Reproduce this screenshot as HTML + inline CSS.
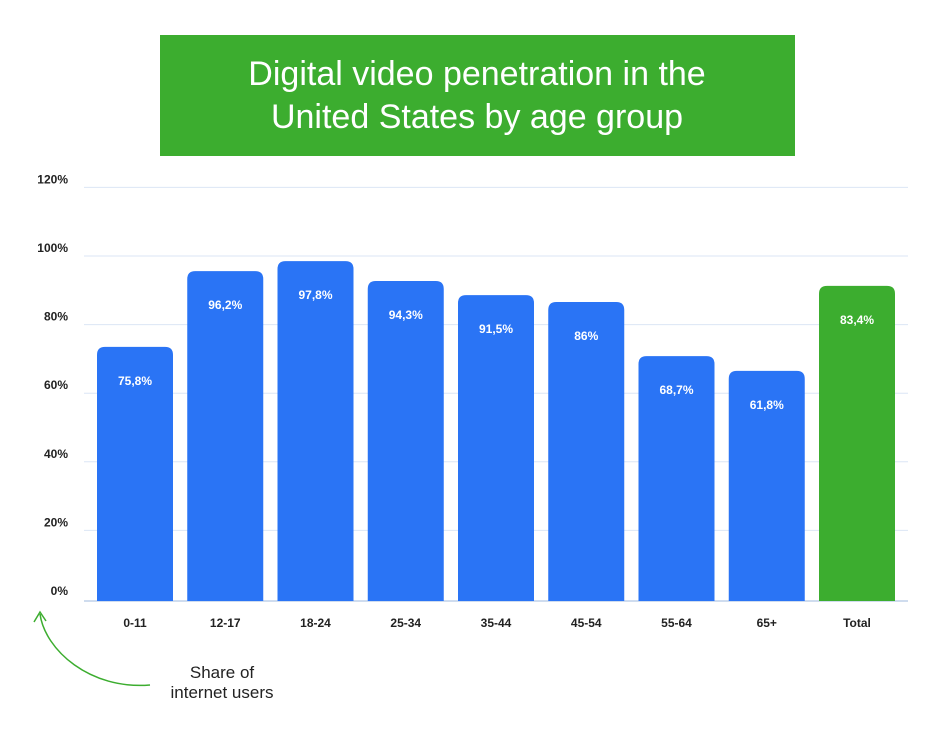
<!DOCTYPE html>
<html><head><meta charset="utf-8"><style>
body{margin:0;background:#fff;width:930px;height:741px;overflow:hidden;font-family:"Liberation Sans",sans-serif}
</style></head><body>
<svg width="930" height="741" xmlns="http://www.w3.org/2000/svg">
<rect x="160" y="35" width="635" height="121" fill="#3cad2f"/>
<text x="477" y="85" fill="#fff" font-size="34" text-anchor="middle">Digital video penetration in the</text>
<text x="477" y="128" fill="#fff" font-size="34" text-anchor="middle">United States by age group</text>
<g id="grid"></g><g id="bars"></g>
<path d="M40 614 C45 650,90 690,150 685" fill="none" stroke="#3cad2f" stroke-width="1.5"/>
<path d="M34 622 L40 612 L46 621" fill="none" stroke="#3cad2f" stroke-width="1.5"/>
<text x="222" y="678" font-size="17" text-anchor="middle" fill="#222">Share of</text>
<text x="222" y="698" font-size="17" text-anchor="middle" fill="#222">internet users</text>
</svg>
<script>
const categories=["0-11","12-17","18-24","25-34","35-44","45-54","55-64","65+","Total"];
const values=[73.5,95.6,98.5,92.7,88.6,86.6,70.8,66.5,91.3];
const printedLabels=["75,8%","96,2%","97,8%","94,3%","91,5%","86%","68,7%","61,8%","83,4%"];
const yTicks=[0,20,40,60,80,100,120];
const ns="http://www.w3.org/2000/svg";
const y0=599,scale=3.43,x0=97,step=90.25,bw=76;
const yS=v=>y0-v*scale, xS=i=>x0+i*step;
const grid=document.getElementById('grid'),bars=document.getElementById('bars');
function mk(tag,a,p){const e=document.createElementNS(ns,tag);for(const k in a)e.setAttribute(k,a[k]);p.appendChild(e);return e;}
yTicks.forEach(t=>{
 const y=yS(t);
 if(t>0){const l=mk('line',{x1:84,x2:908,y1:y,y2:y,stroke:'#dbe6f5','stroke-width':1},grid);
 
 }
 const tx=mk('text',{x:68,y:y-4,'font-size':12,'font-weight':'bold','text-anchor':'end',fill:'#222'},grid);
 tx.textContent=t+'%';
 
 
});
const ax=mk('line',{x1:84,x2:908,y1:601,y2:601,stroke:'#9fb8dc','stroke-width':1},grid);


categories.forEach((c,i)=>{
 const x=xS(i),top=yS(values[i]),h=601-top,r=8;
 const col=c==='Total'?'#3cad2f':'#2a74f5';
 const p=mk('path',{d:`M${x} 601 V${top+r} Q${x} ${top} ${x+r} ${top} H${x+bw-r} Q${x+bw} ${top} ${x+bw} ${top+r} V601 Z`,fill:col},bars);
 
 
 const t=mk('text',{x:x+bw/2,y:top+38,'font-size':12,'font-weight':'bold','text-anchor':'middle',fill:'#fff'},bars);
 t.textContent=printedLabels[i];
 
 
 const xl=mk('text',{x:x+bw/2,y:627,'font-size':12,'font-weight':'bold','text-anchor':'middle',fill:'#222'},bars);
 xl.textContent=c;
 
 
});
</script>
</body></html>
